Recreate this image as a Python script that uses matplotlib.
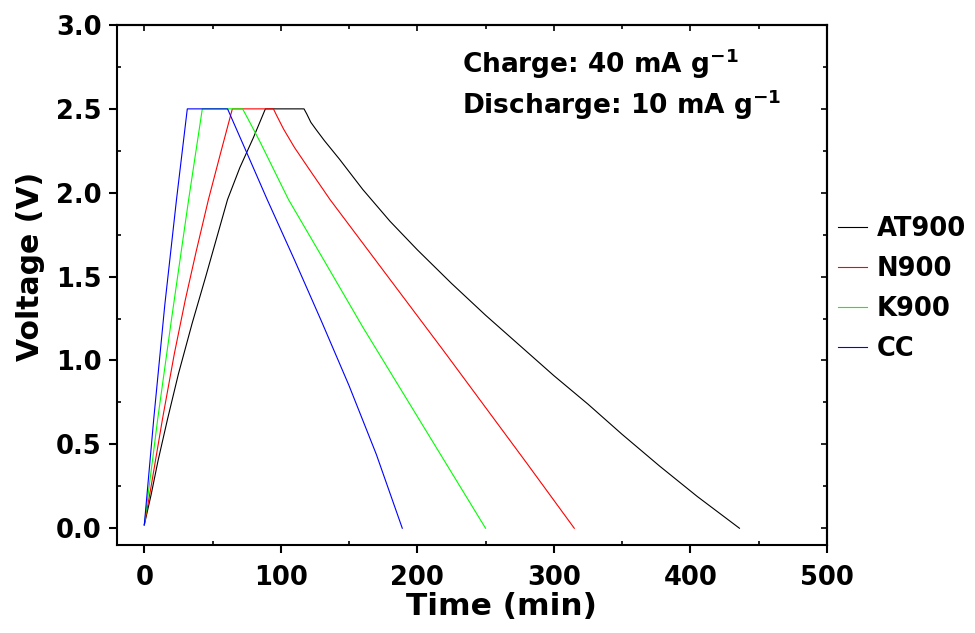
import matplotlib
matplotlib.use("Agg")
import matplotlib.pyplot as plt
from matplotlib.ticker import MultipleLocator, FormatStrFormatter

plt.rcParams['font.family'] = ['DejaVu Sans']
plt.rcParams['font.weight'] = 'bold'
plt.rcParams['mathtext.fontset'] = 'dejavusans'

# Galvanostatic charge/discharge profiles (time in min, voltage in V)
at900_t = [0, 5, 10, 17, 25, 35, 45, 53, 61, 70, 80, 88.7,
           117, 119, 122, 126, 132, 143, 160, 180, 200, 225, 250, 275, 300, 325, 350, 377.6, 405, 436]
at900_v = [0.02, 0.2, 0.4, 0.65, 0.92, 1.22, 1.5, 1.73, 1.96, 2.15, 2.33, 2.5,
           2.5, 2.47, 2.42, 2.375, 2.31, 2.2, 2.02, 1.83, 1.66, 1.46, 1.27, 1.09, 0.91, 0.74, 0.56, 0.37, 0.19, 0.0]

n900_t = [0, 5, 13.3, 22, 30, 38, 47, 56, 64.5,
          94.6, 97, 102, 110, 120, 136, 160, 190, 220, 250, 280, 315]
n900_v = [0.02, 0.25, 0.65, 1.04, 1.36, 1.65, 1.96, 2.24, 2.5,
          2.5, 2.46, 2.38, 2.27, 2.15, 1.96, 1.70, 1.375, 1.05, 0.72, 0.39, 0.0]

k900_t = [0, 9.8, 20, 32.5, 42.5,
          72, 76, 85, 105.6, 130, 160, 190, 220, 250]
k900_v = [0.02, 0.65, 1.25, 1.96, 2.5,
          2.5, 2.44, 2.3, 1.96, 1.62, 1.2, 0.8, 0.4, 0.0]

cc_t = [0, 6.9, 15, 23.6, 31.5,
        61, 75, 90, 110, 130, 150, 170, 189]
cc_v = [0.02, 0.65, 1.33, 1.96, 2.5,
        2.5, 2.24, 1.96, 1.6, 1.23, 0.85, 0.44, 0.0]

series = [
    ("AT900", at900_t, at900_v, "#000000"),
    ("N900", n900_t, n900_v, "#FF0000"),
    ("K900", k900_t, k900_v, "#00FF00"),
    ("CC", cc_t, cc_v, "#0000FF"),
]

fig = plt.figure(figsize=(9.75, 6.33), dpi=100)
ax = fig.add_axes([0.12, 0.139, 0.728, 0.8215])

for name, t, v, c in series:
    ax.plot(t, v, color=c, lw=0.8, label=name)

ax.set_xlim(-20, 500)
ax.set_ylim(-0.1, 3.0)
ax.xaxis.set_major_locator(MultipleLocator(100))
ax.xaxis.set_minor_locator(MultipleLocator(50))
ax.yaxis.set_major_locator(MultipleLocator(0.5))
ax.yaxis.set_minor_locator(MultipleLocator(0.25))
ax.yaxis.set_major_formatter(FormatStrFormatter('%.1f'))

for s in ax.spines.values():
    s.set_linewidth(1.5)

ax.tick_params(which='major', direction='out', length=6, width=1.5,
               labelsize=18.5, pad=5)
ax.tick_params(axis='x', which='major', pad=8.5)
ax.tick_params(which='minor', direction='in', length=3, width=1.2)

# mirrored ticks on the top and right spines, pointing inward
top = ax.secondary_xaxis('top')
top.xaxis.set_major_locator(MultipleLocator(100))
top.xaxis.set_minor_locator(MultipleLocator(50))
top.tick_params(which='both', direction='in', labeltop=False, width=1.2)
top.tick_params(which='major', length=4)
top.tick_params(which='minor', length=3)
top.spines['top'].set_linewidth(1.5)
right = ax.secondary_yaxis('right')
right.yaxis.set_major_locator(MultipleLocator(0.5))
right.yaxis.set_minor_locator(MultipleLocator(0.25))
right.tick_params(which='both', direction='in', labelright=False, width=1.2)
right.tick_params(which='major', length=4)
right.tick_params(which='minor', length=3)
right.spines['right'].set_linewidth(1.5)

for lab in ax.get_xticklabels() + ax.get_yticklabels():
    lab.set_fontweight('bold')

ax.set_xlabel("Time (min)", fontsize=22.5, fontweight='bold')
ax.set_ylabel("Voltage (V)", fontsize=21.5, fontweight='bold')
ax.xaxis.label.set_verticalalignment('center')
ax.yaxis.label.set_verticalalignment('center')
ax.xaxis.set_label_coords(0.541, -0.119)
ax.yaxis.set_label_coords(-0.1225, 0.535)

ax.text(0.486, 0.925, r"Charge: 40 mA g$^{\mathbf{-1}}$", transform=ax.transAxes,
        fontsize=19, fontweight='bold', va='center', ha='left')
ax.text(0.486, 0.846, r"Discharge: 10 mA g$^{\mathbf{-1}}$", transform=ax.transAxes,
        fontsize=19, fontweight='bold', va='center', ha='left')

fig.legend(loc='upper left', bbox_to_anchor=(838 / 975, 0.659), frameon=False,
           borderpad=0, borderaxespad=0, handlelength=1.13, handletextpad=0.39,
           labelspacing=0.55, prop={'size': 18.5, 'weight': 'bold'})

fig.savefig("out.png", dpi=100)
